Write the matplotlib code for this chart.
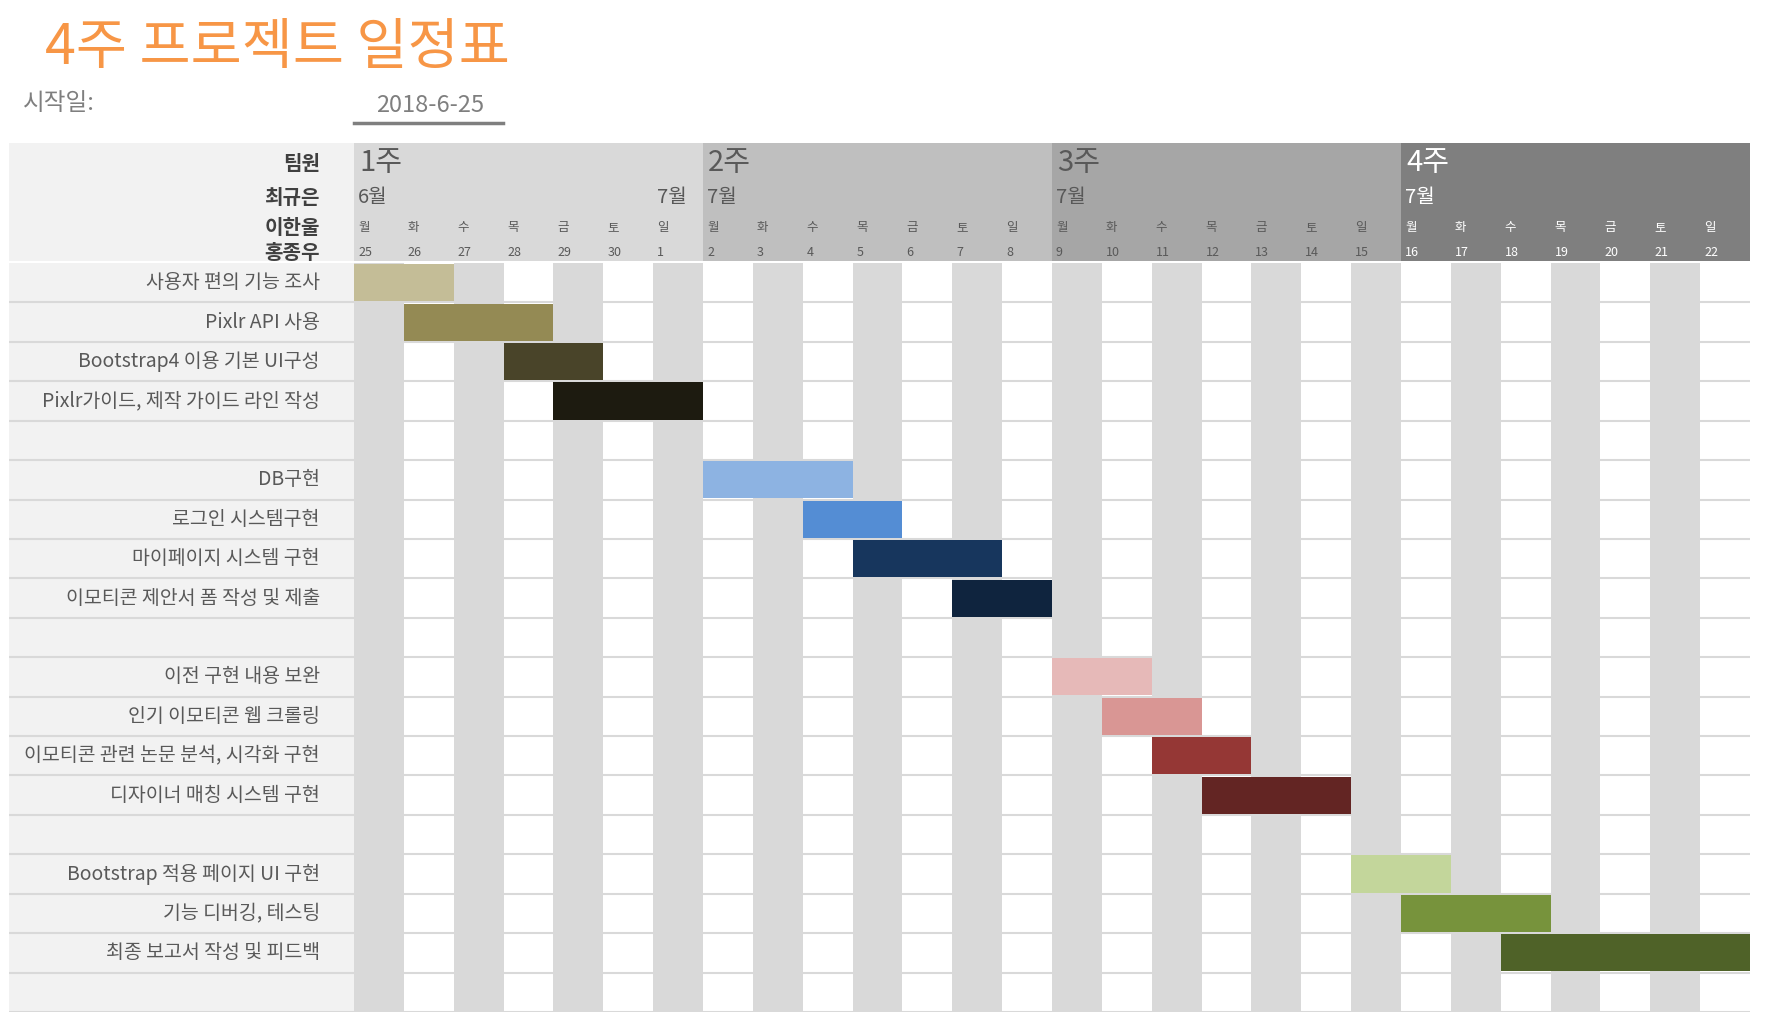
import matplotlib
matplotlib.use('Agg')
import matplotlib.pyplot as plt
from matplotlib.lines import Line2D

plt.rcParams['font.family'] = ['Noto Sans CJK KR', 'DejaVu Sans']

# ---- data ----
title = '4주 프로젝트 일정표'
start_label = '시작일:'
start_date = '2018-6-25'

team = ['팀원', '최규은', '이한울', '홍종우']
weeks = ['1주', '2주', '3주', '4주']
week_colors = ['#d9d9d9', '#bfbfbf', '#a6a6a6', '#7f7f7f']
week_text = ['#595959', '#595959', '#595959', 'white']

weekdays = ['월', '화', '수', '목', '금', '토', '일'] * 4
day_nums = [25, 26, 27, 28, 29, 30, 1,
            2, 3, 4, 5, 6, 7, 8,
            9, 10, 11, 12, 13, 14, 15,
            16, 17, 18, 19, 20, 21, 22]
month_idx = [0, 6, 7, 14, 21]
month_lbl = ['6월', '7월', '7월', '7월', '7월']

tasks = ['사용자 편의 기능 조사', 'Pixlr API 사용', 'Bootstrap4 이용 기본 UI구성',
         'Pixlr가이드, 제작 가이드 라인 작성', '',
         'DB구현', '로그인 시스템구현', '마이페이지 시스템 구현',
         '이모티콘 제안서 폼 작성 및 제출', '',
         '이전 구현 내용 보완', '인기 이모티콘 웹 크롤링',
         '이모티콘 관련 논문 분석, 시각화 구현', '디자이너 매칭 시스템 구현', '',
         'Bootstrap 적용 페이지 UI 구현', '기능 디버깅, 테스팅',
         '최종 보고서 작성 및 피드백', '']
starts = [0, 1, 3, 4, None, 7, 9, 10, 12, None, 14, 15, 16, 17, None, 20, 21, 23, None]
durations = [2, 3, 2, 3, 0, 3, 2, 3, 2, 0, 2, 2, 2, 3, 0, 2, 3, 5, 0]
bar_colors = ['#c4bd97', '#948a54', '#494429', '#1d1b10', None,
              '#8db3e2', '#548dd4', '#17365d', '#0f243e', None,
              '#e6b9b8', '#d99694', '#953735', '#632523', None,
              '#c3d69b', '#77933c', '#4f6228', None]

n_days = len(day_nums)
n_rows = len(tasks)

W, H = 1766, 1030
fig = plt.figure(figsize=(W / 100, H / 100), dpi=100)


def px_axes(x0, y0, x1, y1):
    a = fig.add_axes([x0 / W, 1 - y1 / H, (x1 - x0) / W, (y1 - y0) / H])
    a.set_axis_off()
    return a


# title block
fig.text(45 / W, 1 - 48 / H, title, fontsize=40, color='#f79646', va='center', ha='left',
         fontweight='light')
fig.text(23 / W, 1 - 104 / H, start_label, fontsize=17, color='#7f7f7f', va='center', ha='left')
fig.text(430 / W, 1 - 105 / H, start_date, fontsize=17, color='#7f7f7f', va='center', ha='center')
fig.add_artist(Line2D([354 / W, 503 / W], [1 - 123 / H, 1 - 123 / H], color='#7f7f7f', lw=2.5))

# header: team panel
hl = px_axes(9, 143, 354, 261)
hl.add_patch(plt.Rectangle((0, 0), 1, 1, transform=hl.transAxes, color='#f2f2f2'))
hy = [0.17, 0.46, 0.72, 0.93]
for name, y in zip(team, hy):
    hl.text(0.901, 1 - y, name, transform=hl.transAxes, ha='right', va='center',
            fontsize=14.5, fontweight='bold', color='#404040')

# header: weeks / months / days
hd = px_axes(354, 143, 1750, 261)
hd.set_xlim(0, n_days)
hd.set_ylim(1, 0)
for w, (wk, c) in enumerate(zip(weeks, week_colors)):
    hd.axvspan(w * 7, w * 7 + 7, color=c, lw=0)
    hd.text(w * 7 + 0.1, hy[0], wk, fontsize=21, color=week_text[w], va='center', ha='left')
for i, m in zip(month_idx, month_lbl):
    hd.text(i + 0.08, hy[1], m, fontsize=14.5, color=week_text[i // 7], va='center', ha='left',
            fontweight='medium')
for d in range(n_days):
    hd.text(d + 0.08, hy[2], weekdays[d], fontsize=9, color=week_text[d // 7], va='center', ha='left')
    hd.text(d + 0.08, hy[3], str(day_nums[d]), fontsize=9, color=week_text[d // 7], va='center', ha='left')

# task label panel
lp = px_axes(9, 263, 354, 1012)
lp.set_xlim(0, 1)
lp.set_ylim(n_rows, 0)
lp.add_patch(plt.Rectangle((0, 0), 1, 1, transform=lp.transAxes, color='#f2f2f2'))
for r in range(1, n_rows + 1):
    lp.axhline(r, color='#d9d9d9', lw=1.5)
for r, t in enumerate(tasks):
    lp.text(0.901, r + 0.5, t, ha='right', va='center', fontsize=14, color='#595959')

# gantt grid
ax = px_axes(354, 263, 1750, 1012)
ax.set_xlim(0, n_days)
ax.set_ylim(n_rows, 0)
for d in range(0, n_days, 2):
    ax.axvspan(d, d + 1, color='#d9d9d9', lw=0)
for r in range(1, n_rows + 1):
    ax.axhline(r, color='#d9d9d9', lw=1.5)

rows = [r + 0.5 for r, s in enumerate(starts) if s is not None]
lefts = [s for s in starts if s is not None]
widths = [d for s, d in zip(starts, durations) if s is not None]
cols = [c for s, c in zip(starts, bar_colors) if s is not None]
ax.barh(rows, widths, left=lefts, height=0.94, color=cols, lw=0, zorder=3)

fig.savefig('out.png', dpi=100, facecolor='white')
